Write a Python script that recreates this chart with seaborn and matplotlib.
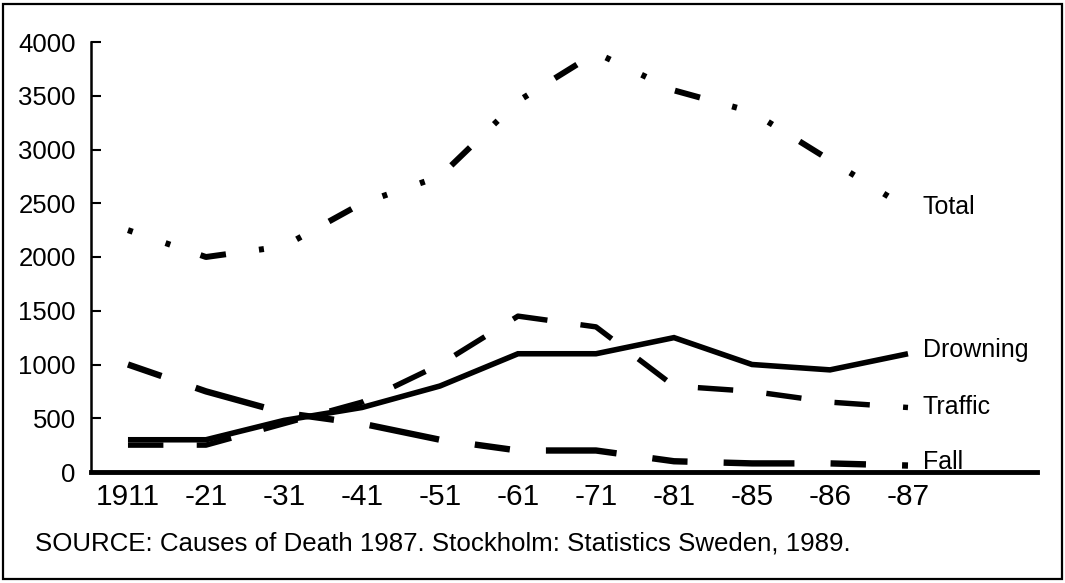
import matplotlib
matplotlib.use("Agg")
import matplotlib.pyplot as plt
import seaborn as sns
import pandas as pd
from matplotlib.patches import Rectangle
from matplotlib.ticker import FixedLocator

# ---- data ----
years = ["1911", "-21", "-31", "-41", "-51", "-61", "-71", "-81", "-85", "-86", "-87"]
total = [2250, 2000, 2100, 2500, 2750, 3450, 3900, 3550, 3350, 2900, 2450]
drowning = [300, 300, 480, 600, 800, 1100, 1100, 1250, 1000, 950, 1100]
traffic = [250, 250, 450, 650, 1000, 1450, 1350, 800, 750, 650, 600]
fall = [1000, 750, 550, 450, 300, 200, 200, 100, 80, 80, 60]
series_names = ["Total", "Drowning", "Traffic", "Fall"]
y_ticks = [0, 500, 1000, 1500, 2000, 2500, 3000, 3500, 4000]
source = "SOURCE: Causes of Death 1987. Stockholm: Statistics Sweden, 1989."

sns.set_style("white")
plt.rcParams["font.family"] = ["Liberation Sans", "DejaVu Sans"]
plt.rcParams["lines.scale_dashes"] = False

pos = list(range(len(years)))
df = pd.DataFrame({"pos": pos * 4,
                   "value": total + drowning + traffic + fall,
                   "series": sum([[n] * len(years) for n in series_names], [])})

fig = plt.figure(figsize=(10.65, 5.83), dpi=100)
ax = fig.add_axes([91 / 1065, 1 - 472 / 583, (1037 - 91) / 1065, 430 / 583])

styles = {
    "Total": dict(lw=4.3, dash=(0, (3.6, 25, 3.6, 23, 18.7, 24))),
    "Drowning": dict(lw=4.0, dash="-"),
    "Traffic": dict(lw=3.9, dash=(0, (25.5, 24))),
    "Fall": dict(lw=4.6, dash=(0, (25.5, 26, 51, 26))),
}
for name in series_names:
    sub = df[df["series"] == name]
    sns.lineplot(data=sub, x="pos", y="value", ax=ax, color="black",
                 lw=styles[name]["lw"], legend=False)
    ln = ax.lines[-1]
    ln.set_linestyle(styles[name]["dash"])
    ln.set_dash_capstyle("butt")
    ln.set_solid_capstyle("butt")
    ln.set_solid_joinstyle("miter")

ax.set_xlim(-0.474, 11.654)
ax.set_ylim(0, 4000)
ax.set_xlabel("")
ax.set_ylabel("")

ax.xaxis.set_major_locator(FixedLocator(pos))
ax.set_xticklabels(years, fontsize=21.5)
ax.xaxis.set_minor_locator(FixedLocator([p + 0.5 for p in pos[:-1]]))
ax.tick_params(axis="x", which="major", length=0, pad=8, colors="black")
ax.tick_params(axis="x", which="minor", direction="in", length=6, width=1.5, color="black")

ax.set_yticks(y_ticks)
ax.set_yticklabels([str(v) for v in y_ticks], fontsize=18.5)
ax.tick_params(axis="y", direction="in", length=7, width=1.5, pad=11, colors="black", left=True)

for s in ["top", "right"]:
    ax.spines[s].set_visible(False)
ax.spines["left"].set_linewidth(1.8)
ax.spines["bottom"].set_linewidth(3.5)
ax.spines["left"].set_color("black")
ax.spines["bottom"].set_color("black")

label_y = {"Total": 2465, "Drowning": 1135, "Traffic": 605, "Fall": 95}
for name in series_names:
    ax.text(10.19, label_y[name], name, fontsize=18, va="center", ha="left", color="black")

fig.text(35 / 1065, 1 - 544 / 583, source, fontsize=18.6, va="center", ha="left", color="black")

fig.patches.append(Rectangle((3 / 1065, 4 / 583), 1059 / 1065, 575 / 583, transform=fig.transFigure,
                             fill=False, edgecolor="black", lw=1.6))

fig.savefig("out.png", dpi=100, facecolor="white")
